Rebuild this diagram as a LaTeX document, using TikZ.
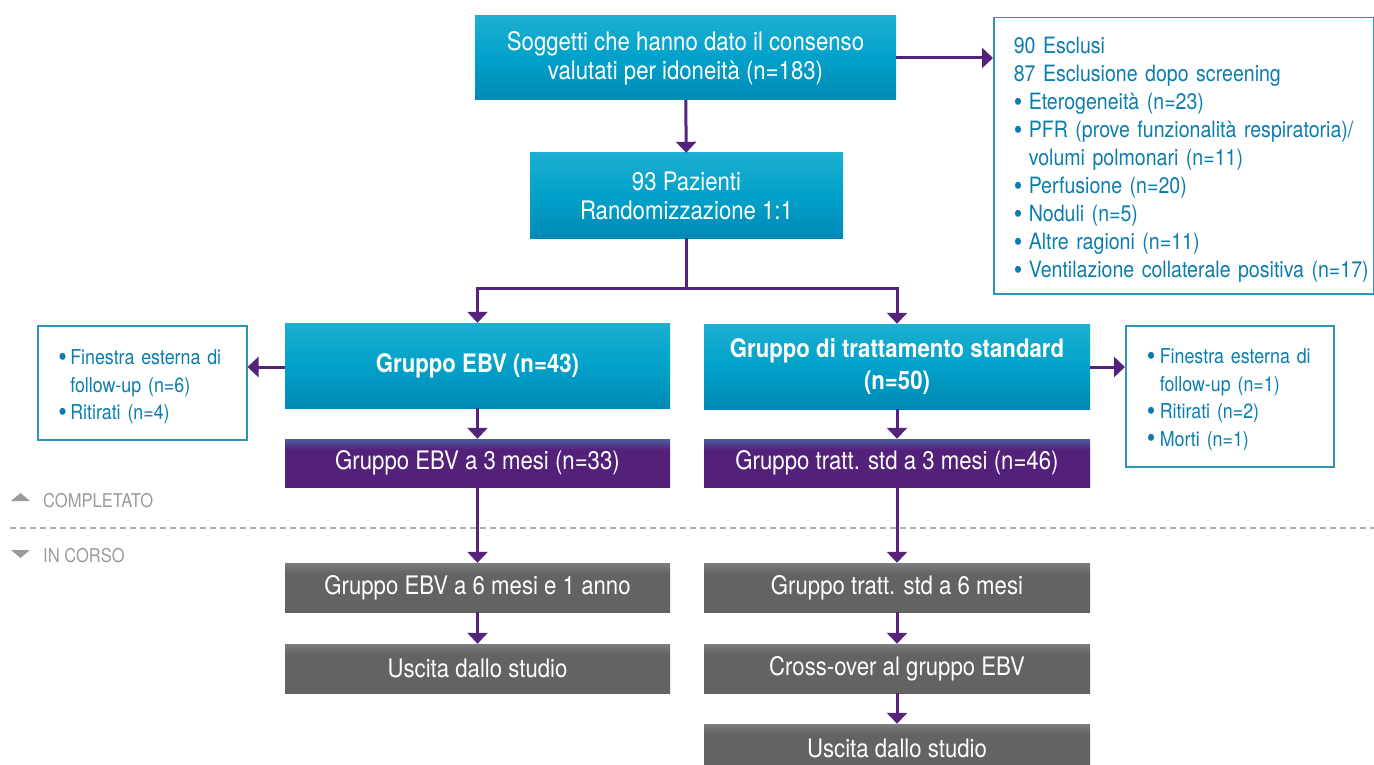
\documentclass[tikz,border=0pt]{standalone}
\usepackage{fontspec}
\setmainfont{TeX Gyre Heros}[FakeStretch=0.87]
\usetikzlibrary{arrows.meta}

\definecolor{cyantop}{HTML}{1CAFD1}
\definecolor{cyanmid}{HTML}{02A1C9}
\definecolor{cyanbot}{HTML}{0089B6}
\definecolor{purptop}{HTML}{4E5C9E}
\definecolor{purpbot}{HTML}{54217A}
\definecolor{greytop}{HTML}{7C7C7C}
\definecolor{greybot}{HTML}{636363}
\definecolor{linkcol}{HTML}{55237C}
\definecolor{listcol}{HTML}{0A7DB0}
\definecolor{framecol}{HTML}{2D93BD}
\definecolor{legendcol}{HTML}{9B9B9B}

\pgfdeclareverticalshading{cyanfill}{100bp}{color(0bp)=(cyanbot); color(25bp)=(cyanbot); color(50bp)=(cyanmid); color(75bp)=(cyantop); color(100bp)=(cyantop)}
\pgfdeclareverticalshading{purpfill}{100bp}{color(0bp)=(purpbot); color(25bp)=(purpbot); color(64bp)=(purpbot); color(75bp)=(purptop); color(100bp)=(purptop)}
\pgfdeclareverticalshading{greyfill}{100bp}{color(0bp)=(greybot); color(25bp)=(greybot); color(64bp)=(greybot); color(75bp)=(greytop); color(100bp)=(greytop)}

\newcommand{\bul}[1][15pt]{\makebox[#1][l]{\smash{\raisebox{-1.6pt}{\fontsize{28}{28}\selectfont\textbullet}}}}

\tikzstyle{arrow} = [line width=3pt, draw=linkcol, -{Triangle[width=20pt,length=11pt]}]
\tikzstyle{bigbox} = [shading=cyanfill, text=white, align=center, font=\fontsize{25.5}{29}\selectfont]
\tikzstyle{donebox} = [shading=purpfill, text=white, align=center, minimum height=48pt, font=\fontsize{25.5}{29}\selectfont]
\tikzstyle{openbox} = [shading=greyfill, text=white, align=center, minimum height=49pt, font=\fontsize{25.5}{29}\selectfont]
\tikzstyle{listbox} = [draw=framecol, line width=1.5pt, text=listcol, align=left]
\tikzstyle{legend} = [text=legendcol, anchor=west, inner sep=0pt, font=\fontsize{19}{22}\selectfont]

\begin{document}
\begin{tikzpicture}[x=1pt, y=-1pt]
	\useasboundingbox (0,0) rectangle (1374,765);

	\node[bigbox, minimum width=421pt, minimum height=84pt] (consent) at (685.5,58) {Soggetti che hanno dato il consenso\\valutati per idoneità (n=183)};
	\node[bigbox, minimum width=313pt, minimum height=85pt] (rand) at (686.5,195.5) {93 Pazienti\\Randomizzazione 1:1};
	\node[listbox, anchor=north west, text width=340pt, inner xsep=20pt, minimum height=276pt, font=\fontsize{22.5}{28}\selectfont] (excl) at (993,17)
		{\rule{0pt}{24.5pt}90 Esclusi\\87 Esclusione dopo screening\\\bul Eterogeneità (n=23)\\\bul PFR (prove funzionalità respiratoria)/\\\hspace*{15pt}volumi polmonari (n=11)\\\bul Perfusione (n=20)\\\bul Noduli (n=5)\\\bul Altre ragioni (n=11)\\\mbox{\bul Ventilazione collaterale positiva (n=17)}};

	\node[bigbox, minimum width=385pt, minimum height=85pt, font=\bfseries\fontsize{25.5}{32}\selectfont] (ebv) at (477.5,365.5) {Gruppo EBV (n=43)};
	\node[bigbox, minimum width=386pt, minimum height=85pt, font=\bfseries\fontsize{25.5}{32}\selectfont] (std) at (897,366.5) {Gruppo di trattamento standard\\(n=50)};
	\node[listbox, anchor=north west, text width=168pt, inner xsep=20.5pt, minimum height=114pt, font=\fontsize{20.5}{27.5}\selectfont] (ebvlost) at (37,325)
		{\rule{0pt}{23pt}\bul[12pt]Finestra esterna di\\\hspace*{12pt}follow-up (n=6)\\\bul[12pt]Ritirati (n=4)};
	\node[listbox, anchor=north west, text width=166pt, inner xsep=21pt, minimum height=141pt, font=\fontsize{20.5}{27.5}\selectfont] (stdlost) at (1125,325)
		{\rule{0pt}{22pt}\bul[13pt]Finestra esterna di\\\hspace*{13pt}follow-up (n=1)\\\bul[13pt]Ritirati (n=2)\\\bul[13pt]Morti (n=1)};

	\node[donebox, minimum width=385pt] (ebvthree) at (477.5,463) {Gruppo EBV a 3 mesi (n=33)};
	\node[donebox, minimum width=386pt] (stdthree) at (897,463) {Gruppo tratt. std a 3 mesi (n=46)};

	\node[openbox, minimum width=385pt] (ebvsix) at (477.5,587.5) {Gruppo EBV a 6 mesi e 1 anno};
	\node[openbox, minimum width=385pt] (ebvexit) at (477.5,668.5) {Uscita dallo studio};
	\node[openbox, minimum width=386pt] (stdsix) at (897,587.5) {Gruppo tratt. std a 6 mesi};
	\node[openbox, minimum width=386pt] (cross) at (897,668.5) {Cross-over al gruppo EBV};
	\node[openbox, minimum width=386pt] (stdexit) at (897,748.5) {Uscita dallo studio};

	% completed / ongoing
	\draw[legendcol!80, line width=1.3pt, dash pattern=on 6pt off 4pt] (10,528) -- (1374,528);
	\fill[legendcol] (11,501) -- (30,501) -- (20.5,493) -- cycle;
	\fill[legendcol] (11,550) -- (30,550) -- (20.5,558) -- cycle;
	\node[legend] (done) at (43,501) {COMPLETATO};
	\node[legend] (ongoing) at (43,556) {IN CORSO};

	\coordinate (split) at (686.5,288);

	\draw[arrow] (consent) -- (rand);
	\draw[arrow] (consent.east) -- (consent.east -| excl.west);
	\draw[arrow] (rand.south) -- (split) -| (ebv.north);
	\draw[arrow] (split) -| (std.north);
	\draw[arrow] (ebv.west) ++(0,1.5) -- (ebvlost.east |- 0,367);
	\draw[arrow] (std.east) ++(0,0.5) -- (stdlost.west |- 0,367);
	\draw[arrow] (ebv) -- (ebvthree);
	\draw[arrow] (std) -- (stdthree);
	\draw[arrow] (ebvthree) -- (ebvsix);
	\draw[arrow] (stdthree) -- (stdsix);
	\draw[arrow] (ebvsix) -- (ebvexit);
	\draw[arrow] (stdsix) -- (cross);
	\draw[arrow] (cross) -- (stdexit);

\end{tikzpicture}
\end{document}
